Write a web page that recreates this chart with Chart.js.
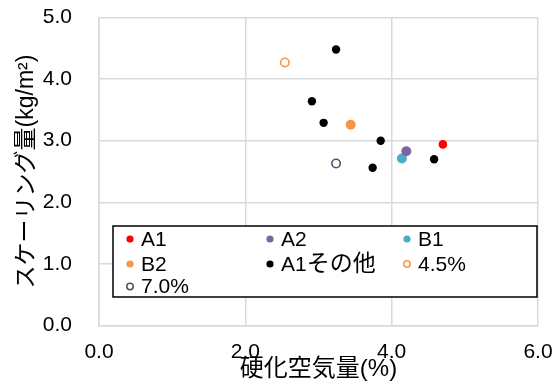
<!DOCTYPE html>
<html><head><meta charset="utf-8">
<script src="https://cdn.jsdelivr.net/npm/chart.js@4.4.1/dist/chart.umd.min.js"></script>
<style>html,body{margin:0;padding:0;background:#fff}#wrap{width:558px;height:387px}</style>
</head><body><div id="wrap"><canvas id="c" width="558" height="387"></canvas></div>
<script>
const FONT = "'Liberation Sans','Noto Sans CJK JP',sans-serif";
const xTitle = "硬化空気量(%)";
const yTitle = "スケーリング量(kg/m²)";
const seriesNames = ["A1", "A2", "B1", "B2", "A1その他", "4.5%", "7.0%"];
const a1X = [4.70], a1Y = [2.94];
const a2X = [4.20], a2Y = [2.83];
const b1X = [4.14], b1Y = [2.71];
const b2X = [3.44], b2Y = [3.26];
const otherX = [3.24, 2.91, 3.07, 3.85, 4.58, 3.74];
const otherY = [4.48, 3.64, 3.29, 3.00, 2.70, 2.56];
const p45X = [2.54], p45Y = [4.27];
const p70X = [3.24], p70Y = [2.63];

const pts = (xs, ys) => xs.map((x, i) => ({x, y: ys[i]}));
const styles = [
  {bg:'#FF0000', bc:'#FF0000', r:4.3, bw:0},
  {bg:'#8064A2', bc:'#8064A2', r:5, bw:0},
  {bg:'#4BACC6', bc:'#4BACC6', r:5, bw:0},
  {bg:'#F79646', bc:'#F79646', r:5, bw:0},
  {bg:'#000000', bc:'#000000', r:4.2, bw:0},
  {bg:'#FFFFFF', bc:'#F79646', r:4.2, bw:1.6},
  {bg:'#FFFFFF', bc:'#44546A', r:4.2, bw:1.6}
];
const dataSets = [pts(a1X,a1Y), pts(a2X,a2Y), pts(b1X,b1Y), pts(b2X,b2Y), pts(otherX,otherY), pts(p45X,p45Y), pts(p70X,p70Y)];

const isCJK = ch => /[\u3000-\u9fff\uff00-\uffef]/.test(ch);
function drawMixed(ctx, text, x, y, latinSize, cjkSize) {
  let cx = x;
  for (const ch of text) {
    ctx.font = (isCJK(ch) ? cjkSize : latinSize) + 'px ' + FONT;
    ctx.fillText(ch, cx, y);
    cx += ctx.measureText(ch).width;
  }
}

const legendPlugin = {
  id: 'boxLegend',
  afterDraw(chart) {
    const ctx = chart.ctx, ca = chart.chartArea;
    const left = ca.left + 14, right = ca.right - 1, top = 226, bottom = 297;
    ctx.save();
    ctx.fillStyle = '#fff';
    ctx.fillRect(left, top, right - left, bottom - top);
    ctx.strokeStyle = '#000'; ctx.lineWidth = 1.5;
    ctx.strokeRect(left, top, right - left, bottom - top);
    const cols = [left + 17, left + 157, left + 294];
    const rows = [top + 13, top + 38, top + 60.5];
    ctx.textBaseline = 'middle';
    ctx.textAlign = 'left';
    chart.data.datasets.forEach((ds, i) => {
      const cx = cols[i % 3], cy = rows[Math.floor(i / 3)];
      const st = styles[i];
      ctx.beginPath();
      ctx.arc(cx, cy, st.bw ? 3.2 : 3.6, 0, Math.PI * 2);
      ctx.fillStyle = st.bg; ctx.fill();
      if (st.bw) { ctx.lineWidth = 1.5; ctx.strokeStyle = st.bc; ctx.stroke(); }
      ctx.fillStyle = '#000';
      drawMixed(ctx, ds.label, cx + 11, cy + 1, 21, 23);
    });
    ctx.restore();
  }
};

new Chart(document.getElementById('c'), {
  type: 'scatter',
  data: {
    datasets: dataSets.map((d, i) => ({
      label: seriesNames[i], data: d,
      pointBackgroundColor: styles[i].bg, pointBorderColor: styles[i].bc,
      pointBorderWidth: styles[i].bw, pointRadius: styles[i].r, pointHoverRadius: styles[i].r
    }))
  },
  options: {
    responsive: false, animation: false,
    layout: {padding: {top: 17.5, right: 20, left: 0, bottom: 0}},
    plugins: {legend: {display: false}, tooltip: {enabled: false}},
    scales: {
      x: {
        type: 'linear', min: 0, max: 6,
        afterFit(s) { s.height = 61.5; s.paddingLeft = 0; s.paddingRight = 0; },
        grid: {color: '#D9D9D9', lineWidth: 1.5, drawTicks: false},
        border: {color: '#D9D9D9', width: 1.5},
        ticks: {stepSize: 2, padding: 14.5, color: '#000', font: {family: FONT, size: 21}, callback: v => v.toFixed(1)},
        title: {display: true, text: xTitle, color: '#000', font: {family: FONT, size: 24}, padding: {top: 0, bottom: 3}}
      },
      y: {
        type: 'linear', min: 0, max: 5,
        afterFit(s) { s.width = 99; s.paddingTop = 0; s.paddingBottom = 0; },
        grid: {color: '#D9D9D9', lineWidth: 1.5, drawTicks: false},
        border: {color: '#D9D9D9', width: 1.5},
        ticks: {stepSize: 1, padding: 27, color: '#000', font: {family: FONT, size: 21}, callback: v => v.toFixed(1)},
        title: {display: true, text: yTitle, color: '#000', font: {family: FONT, size: 23}, padding: {top: 13, bottom: 0}}
      }
    }
  },
  plugins: [legendPlugin]
});
</script></body></html>
